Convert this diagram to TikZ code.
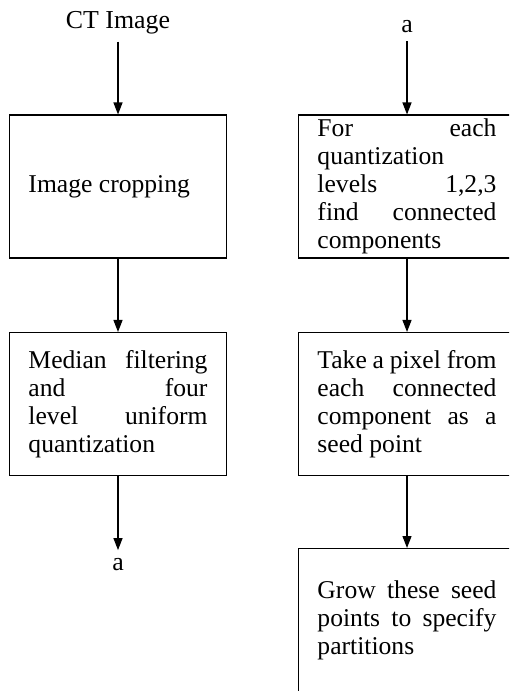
\documentclass[tikz,border=0pt]{standalone}
\usepackage{fontspec}
\setmainfont{Liberation Serif}
\usetikzlibrary{arrows.meta}
\hyphenpenalty=10000
\exhyphenpenalty=10000
\tolerance=9999
\hbadness=10000
\newcommand\nohyphbox{\hyphenpenalty=10000\relax\exhyphenpenalty=10000\relax\tolerance=9999\relax}
\tikzset{
  box/.style={draw=black, line width=0.45pt, minimum width=217*0.41pt, minimum height=143*0.41pt,
    text width=73.4pt, align=justify, inner sep=0pt,
    font=\fontsize{10.5pt}{11.5pt}\selectfont\nohyphbox},
  lbl/.style={inner sep=3pt, font=\fontsize{10.6pt}{12pt}\selectfont, anchor=base},
  conn/.style={line width=0.45pt, -{Triangle[length=4.9pt,width=3.7pt]}}
}
\begin{document}
\begin{tikzpicture}[x=0.41pt, y=-0.41pt]
\useasboundingbox (0,0) rectangle (509,691);
\clip (0,0) rectangle (509,691);
\node[lbl] (ct) at (118,28.3) {CT Image};
\node[box] (b1) at (118,186.5) {Image cropping};
\node[box] (b2) at (118,404) {Median filtering and four level uniform quantization};
\node[lbl] (a1) at (118,570) {a};
\node[lbl] (a2) at (407,33) {a};
\node[box] (c1) at (407,186.5) {For each quantization levels 1,2,3 find connected components};
\node[box] (c2) at (407,404) {Take a pixel from each connected component as a seed point};
\node[box] (c3) at (407,620) {Grow these seed points to specify partitions};
\draw[conn] (ct) -- (b1);
\draw[conn] (b1) -- (b2);
\draw[conn] (b2) -- (a1);
\draw[conn] (a2) -- (c1);
\draw[conn] (c1) -- (c2);
\draw[conn] (c2) -- (c3);
\end{tikzpicture}
\end{document}
